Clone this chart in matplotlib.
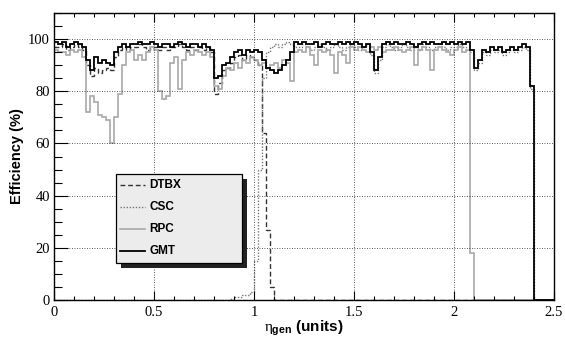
import numpy as np
import matplotlib
matplotlib.use('Agg')
import matplotlib.pyplot as plt
from matplotlib.patches import Rectangle
from matplotlib.ticker import MultipleLocator

plt.rcParams['mathtext.fontset'] = 'custom'
plt.rcParams['mathtext.rm'] = 'Liberation Serif'
plt.rcParams['mathtext.it'] = 'Liberation Serif'
plt.rcParams['mathtext.bf'] = 'Liberation Sans:bold'

# eta bins of 0.02 from 0 to 2.5
eta_edges = np.linspace(0.0, 2.5, 126)

# efficiencies (%) per bin
dtbx = [97, 97, 98, 96, 97, 98, 97, 96, 90, 86,
        89, 87, 88, 89, 88, 93, 96, 97, 96, 97,
        97, 98, 97, 96, 97, 97, 96, 97, 96, 97,
        97, 98, 97, 96, 97, 96, 97, 96, 97, 95,
        79, 83, 88, 89, 91, 93, 94, 92, 94, 93,
        92, 90, 64, 27, 5, 0, 0, 0, 0, 0,
        0, 0, 0, 0, 0, 0, 0, 0, 0, 0,
        0, 0, 0, 0, 0, 0, 0, 0, 0, 0,
        0, 0, 0, 0, 0, 0, 0, 0, 0, 0,
        0, 0, 0, 0, 0, 0, 0, 0, 0, 0,
        0, 0, 0, 0, 0, 0, 0, 0, 0, 0,
        0, 0, 0, 0, 0, 0, 0, 0, 0, 0,
        0, 0, 0, 0, 0]

csc = [0, 0, 0, 0, 0, 0, 0, 0, 0, 0,
       0, 0, 0, 0, 0, 0, 0, 0, 0, 0,
       0, 0, 0, 0, 0, 0, 0, 0, 0, 0,
       0, 0, 0, 0, 0, 0, 0, 0, 0, 0,
       0, 0, 0, 0, 0.5, 1, 1, 2, 2, 3,
       15, 50, 85, 95, 97, 98, 97, 98, 99, 98,
       97, 97, 98, 97, 96, 97, 98, 97, 96, 97,
       98, 97, 96, 97, 98, 97, 96, 97, 98, 94,
       87, 92, 97, 98, 97, 96, 97, 98, 97, 96,
       97, 96, 98, 97, 96, 97, 98, 97, 96, 97,
       97, 98, 97, 96, 95, 88, 91, 95, 94, 96,
       95, 96, 94, 95, 96, 95, 96, 97, 96, 81,
       0, 0, 0, 0, 0]

rpc = [96, 95, 95, 94, 96, 95, 96, 93, 72, 78,
       76, 71, 70, 69, 60, 70, 79, 90, 95, 96,
       92, 94, 92, 95, 97, 96, 80, 77, 78, 91,
       93, 81, 92, 95, 94, 96, 95, 94, 95, 93,
       82, 81, 86, 89, 88, 91, 89, 92, 91, 93,
       92, 90, 91, 89, 90, 91, 89, 92, 91, 84,
       95, 96, 95, 97, 94, 90, 96, 95, 96, 94,
       87, 95, 94, 91, 97, 96, 97, 96, 95, 97,
       96, 97, 95, 96, 96, 97, 96, 95, 96, 97,
       90, 96, 97, 96, 88, 96, 97, 96, 95, 94,
       96, 97, 95, 96, 18, 0, 0, 0, 0, 0,
       0, 0, 0, 0, 0, 0, 0, 0, 0, 0,
       0, 0, 0, 0, 0]

gmt = [99, 98, 99, 97, 98, 99, 98, 97, 92, 88,
       93, 91, 92, 91, 90, 95, 97, 98, 97, 98,
       98, 99, 98, 98, 99, 98, 97, 98, 98, 97,
       98, 99, 98, 97, 98, 98, 97, 98, 97, 96,
       85, 86, 90, 91, 93, 95, 96, 94, 96, 95,
       96, 95, 92, 89, 88, 87, 88, 90, 92, 95,
       99, 98, 99, 98, 98, 99, 97, 98, 99, 98,
       98, 99, 98, 99, 98, 99, 98, 97, 98, 95,
       88, 93, 98, 99, 98, 99, 98, 98, 99, 98,
       97, 98, 99, 98, 99, 98, 98, 99, 98, 99,
       98, 99, 98, 99, 96, 89, 92, 96, 95, 97,
       96, 97, 95, 96, 97, 96, 97, 98, 97, 82,
       0, 0, 0, 0, 0]

labels = ['DTBX', 'CSC', 'RPC', 'GMT']
styles = [dict(color='#333333', ls=(0, (3.5, 2)), lw=1.0),
          dict(color='#777777', ls=(0, (1, 1.2)), lw=1.0),
          dict(color='#a8a8a8', ls='-', lw=1.2),
          dict(color='black', ls='-', lw=1.3)]

fig = plt.figure(figsize=(5.65, 3.42), dpi=100)
ax = fig.add_axes([54 / 565, 42 / 342, 500 / 565, 287 / 342])

for vals, st in zip([dtbx, csc, rpc, gmt], styles):
    ax.stairs(vals, eta_edges, baseline=None, **st)

ax.set_xlim(0, 2.5)
ax.set_ylim(0, 110)

ax.xaxis.set_major_locator(MultipleLocator(0.5))
ax.xaxis.set_minor_locator(MultipleLocator(0.1))
ax.yaxis.set_major_locator(MultipleLocator(20))
ax.yaxis.set_minor_locator(MultipleLocator(5))
ax.set_xticks([0, 0.5, 1, 1.5, 2, 2.5])
ax.set_xticklabels(['0', '0.5', '1', '1.5', '2', '2.5'])
ax.set_yticks([0, 20, 40, 60, 80, 100])

ax.grid(True, which='major', color='#222222', ls=(0, (1, 2)), lw=0.6)
ax.tick_params(axis='both', which='both', direction='in', top=True, right=False)
ax.tick_params(axis='x', which='major', length=6.5, width=0.8)
ax.tick_params(axis='x', which='minor', length=3.2, width=0.8)
ax.tick_params(axis='y', which='major', length=10, width=0.8)
ax.tick_params(axis='y', which='minor', length=5.5, width=0.8)
for lab in ax.get_xticklabels() + ax.get_yticklabels():
    lab.set_family('Liberation Serif')
    lab.set_fontsize(10.5)
ax.tick_params(axis='x', pad=4)
ax.tick_params(axis='y', pad=3)
for sp in ax.spines.values():
    sp.set_linewidth(1.0)

ax.set_ylabel('Efficiency (%)', family='Liberation Sans', weight='bold',
              fontsize=10.5, labelpad=2.5)
ax.set_xlabel(r'$\eta_{\mathbf{gen}}$ (units)', family='Liberation Sans',
              weight='bold', fontsize=11, labelpad=0)

# legend box with drop shadow
x0, x1, y0, y1 = 0.124, 0.376, 0.129, 0.439
ax.add_patch(Rectangle((x0 + 0.010, y0 - 0.016), x1 - x0, y1 - y0,
                       transform=ax.transAxes, facecolor='#222222',
                       edgecolor='none', zorder=5))
ax.add_patch(Rectangle((x0, y0), x1 - x0, y1 - y0, transform=ax.transAxes,
                       facecolor='#ececec', edgecolor='black', lw=0.9,
                       zorder=6))
entry_y = [0.401, 0.325, 0.248, 0.172]
for lab, st, yy in zip(labels, styles, entry_y):
    ax.plot([0.132, 0.182], [yy, yy], transform=ax.transAxes, zorder=7, **st)
    ax.text(0.190, yy, lab, transform=ax.transAxes, va='center', ha='left',
            family='Liberation Sans', weight='bold', fontsize=8.5, zorder=7)

fig.savefig('out.png', dpi=100)
